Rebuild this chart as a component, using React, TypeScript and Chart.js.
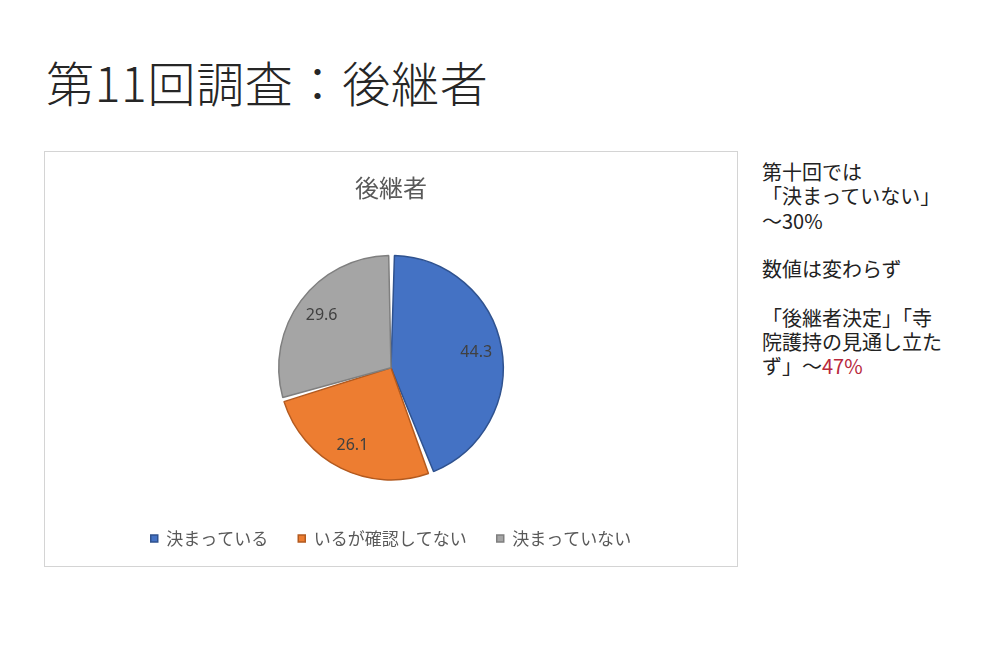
import React, { useEffect, useRef } from "react";
import { Chart, registerables } from "chart.js";

Chart.register(...registerables);

const pageTitle = "第11回調査：後継者";
const chartTitle = "後継者";
const categories = ["決まっている", "いるが確認してない", "決まっていない"];
const values = [44.3, 26.1, 29.6];
const sliceColors = ["#4472C4", "#ED7D31", "#A5A5A5"];
const sliceBorders = ["#2F528F", "#B35A1F", "#7F7F7F"];

const noteLines1 = ["第十回では", "「決まっていない」", "～30%"];
const noteLine2 = "数値は変わらず";
const noteLines3 = ["「後継者決定」「寺", "院護持の見通し立た", "ず」～"];
const noteHighlight = "47%";

const FONT = "'Noto Sans CJK JP', 'Noto Sans', sans-serif";

const valueLabels = {
  id: "valueLabels",
  afterDatasetsDraw(chart: any) {
    const ctx = chart.ctx;
    const meta = chart.getDatasetMeta(0);
    ctx.save();
    ctx.font = "16px 'Noto Sans', sans-serif";
    ctx.fillStyle = "#404040";
    ctx.textAlign = "center";
    ctx.textBaseline = "middle";
    meta.data.forEach((arc: any, i: number) => {
      const p = arc.getProps(["x", "y", "startAngle", "endAngle", "outerRadius"], true);
      const mid = (p.startAngle + p.endAngle) / 2;
      const r = p.outerRadius * 0.78;
      ctx.fillText(String(values[i]), p.x + Math.cos(mid) * r, p.y + Math.sin(mid) * r);
    });
    ctx.restore();
  },
};

const legendShift = {
  id: "legendShift",
  afterInit(chart: any) {
    const lg = chart.legend;
    if (!lg) return;
    const fit = lg.fit;
    lg.fit = function () {
      fit.call(this);
      this.height = 66;
    };
  },
};

function PieChart() {
  const ref = useRef<HTMLCanvasElement | null>(null);
  useEffect(() => {
    if (!ref.current) return;
    const chart = new Chart(ref.current, {
      type: "pie",
      data: {
        labels: categories,
        datasets: [
          {
            data: values,
            backgroundColor: sliceColors,
            borderColor: sliceBorders,
            borderWidth: 1.5,
            spacing: 2.5,
            radius: 111,
          } as any,
        ],
      },
      options: {
        responsive: false,
        animation: false,
        layout: { padding: 0 },
        plugins: {
          title: {
            display: true,
            text: chartTitle,
            color: "#595959",
            font: { size: 24, weight: "normal", family: FONT },
            padding: { top: 21.6, bottom: 33 },
          },
          legend: {
            position: "bottom",
            labels: {
              boxWidth: 7,
              boxHeight: 7,
              padding: 30,
              color: "#595959",
              font: { size: 17, family: FONT },
            },
          },
          tooltip: { enabled: false },
        },
      } as any,
      plugins: [valueLabels, legendShift],
    });
    return () => chart.destroy();
  }, []);
  return <canvas ref={ref} width={692} height={414} style={{ display: "block" }} />;
}

export default function App() {
  return (
    <div
      style={{
        position: "fixed",
        left: 0,
        top: 0,
        width: 1000,
        height: 646,
        background: "#ffffff",
        fontFamily: FONT,
        color: "#222",
      }}
    >
      <div
        style={{
          position: "absolute",
          left: 46,
          top: 52,
          fontSize: 48,
          lineHeight: "58px",
          fontWeight: 300,
          letterSpacing: "0.7px",
          color: "#262626",
          whiteSpace: "nowrap",
        }}
      >
        {pageTitle}
      </div>
      <div
        style={{
          position: "absolute",
          left: 44,
          top: 151,
          width: 692,
          height: 414,
          border: "1px solid #d4d4d4",
        }}
      >
        <PieChart />
      </div>
      <div
        style={{
          position: "absolute",
          left: 762,
          top: 160,
          fontSize: 20,
          lineHeight: "24.3px",
          color: "#222",
          whiteSpace: "nowrap",
        }}
      >
        {noteLines1.map((t, i) => (
          <div key={"a" + i}>{t}</div>
        ))}
        <div>&nbsp;</div>
        <div>{noteLine2}</div>
        <div>&nbsp;</div>
        {noteLines3.map((t, i) => (
          <div key={"c" + i}>
            {t}
            {i === noteLines3.length - 1 ? <span style={{ color: "#B8283C" }}>{noteHighlight}</span> : null}
          </div>
        ))}
      </div>
    </div>
  );
}
